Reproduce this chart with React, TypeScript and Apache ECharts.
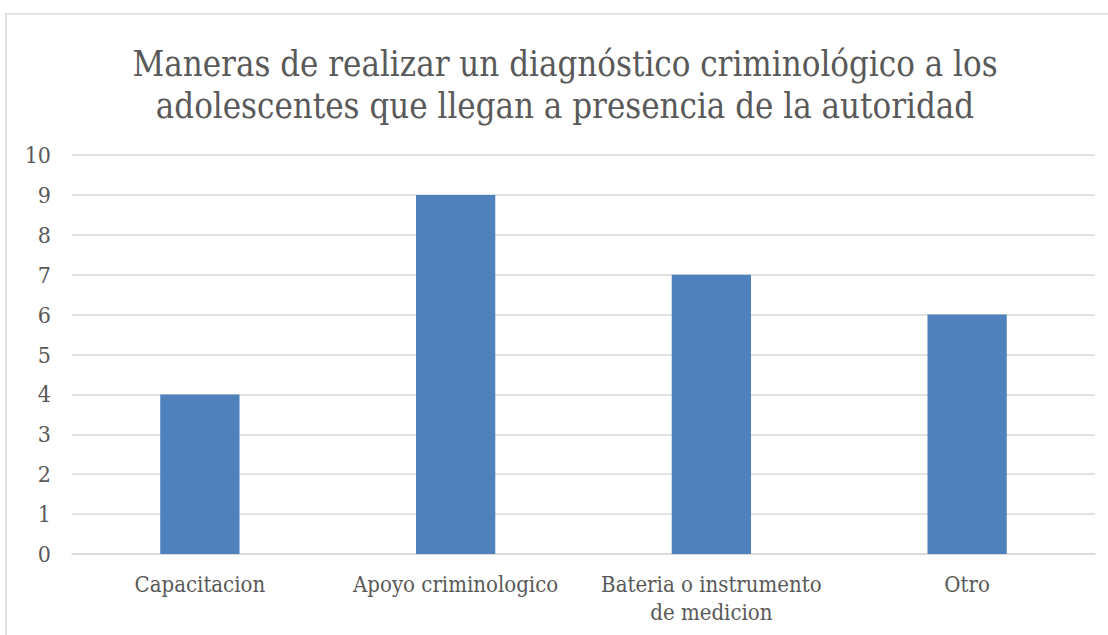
import React, { useEffect, useRef } from "react";
import * as echarts from "echarts";

const titleText = "Maneras de realizar un diagnóstico criminológico a los\nadolescentes que llegan a presencia de la autoridad";
const categories = ["Capacitacion", "Apoyo criminologico", "Bateria o instrumento\nde medicion", "Otro"];
const values = [4, 9, 7, 6];

export default function App() {
  const ref = useRef<HTMLDivElement>(null);
  useEffect(() => {
    const chart = echarts.init(ref.current!, undefined, { renderer: "svg" });
    const font = "'DejaVu Serif Condensed', 'DejaVu Serif', serif";
    chart.setOption({
      animation: false,
      backgroundColor: "#ffffff",
      title: {
        text: titleText,
        left: 560,
        top: 38,
        textAlign: "center",
        textStyle: { fontFamily: font, fontSize: 34.5, fontWeight: "normal", color: "#595959", lineHeight: 42 },
      },
      graphic: [
        {
          type: "rect",
          shape: { x: 6, y: 14, width: 1200, height: 700 },
          style: { fill: "none", stroke: "#d9d9d9", lineWidth: 1.5 },
          silent: true,
        },
      ],
      grid: { left: 72, right: 13, top: 155, bottom: 81 },
      xAxis: {
        type: "category",
        data: categories,
        axisTick: { show: false },
        axisLine: { show: true, lineStyle: { color: "#d9d9d9", width: 1.5 } },
        axisLabel: { fontFamily: font, fontSize: 22, color: "#595959", margin: 16, lineHeight: 28, interval: 0 },
      },
      yAxis: {
        type: "value",
        min: 0,
        max: 10,
        interval: 1,
        axisLine: { show: false },
        axisTick: { show: false },
        axisLabel: { fontFamily: font, fontSize: 23, color: "#595959", margin: 21 },
        splitLine: { lineStyle: { color: "#d9d9d9", width: 1.5 } },
      },
      series: [
        {
          type: "bar",
          data: values,
          barWidth: "31%",
          itemStyle: { color: "#4f81bd" },
        },
      ],
    });
    return () => chart.dispose();
  }, []);
  return <div ref={ref} style={{ position: "absolute", left: 0, top: 0, width: 1108, height: 635 }} />;
}
